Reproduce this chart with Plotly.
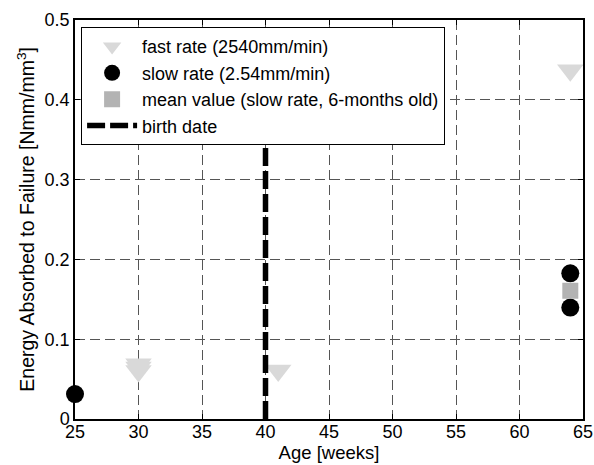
import plotly.graph_objects as go

fast_age = [30, 30, 30, 41, 64]
fast_energy = [0.0685, 0.0644, 0.0603, 0.0608, 0.437]
slow_age = [25, 64, 64]
slow_energy = [0.0313, 0.1826, 0.1397]
mean_age = [64]
mean_energy = [0.1607]
birth_age = [40, 40]
birth_energy = [0, 0.345]

x_ticks = [25, 30, 35, 40, 45, 50, 55, 60, 65]
y_ticks = [0, 0.1, 0.2, 0.3, 0.4, 0.5]
y_ticklabels = ["0", "0.1", "0.2", "0.3", "0.4", "0.5"]

FS = 18

fig = go.Figure()
fig.add_trace(go.Scatter(x=fast_age, y=fast_energy, mode="markers", name="fast rate (2540mm/min)",
                         marker=dict(symbol="triangle-down", size=23, color="#d9d9d9")))
fig.add_trace(go.Scatter(x=slow_age, y=slow_energy, mode="markers", name="slow rate (2.54mm/min)",
                         marker=dict(symbol="circle", size=18, color="black"), cliponaxis=False))
fig.add_trace(go.Scatter(x=mean_age, y=mean_energy, mode="markers", name="mean value (slow rate, 6-months old)",
                         marker=dict(symbol="square", size=16, color="#b3b3b3")))
fig.add_trace(go.Scatter(x=birth_age, y=birth_energy, mode="lines", name="birth date",
                         line=dict(color="black", width=5.5, dash="18px,5px")))

axis_common = dict(showline=True, linecolor="black", linewidth=1.5, mirror="allticks",
                   ticks="inside", ticklen=5, tickcolor="black", automargin=False,
                   showgrid=True, gridcolor="#555555", gridwidth=1, griddash="10px,5px",
                   zeroline=False, tickfont=dict(size=FS, color="black"))

fig.update_layout(
    width=594, height=465,
    margin=dict(l=75, r=11, t=20, b=46),
    paper_bgcolor="white", plot_bgcolor="white",
    font=dict(family="Liberation Sans, Arial, sans-serif", size=FS, color="black"),
    xaxis=dict(range=[25, 65], tickvals=x_ticks, ticklabelstandoff=-4,
               title=dict(text="Age [weeks]", standoff=0, font=dict(size=18.5)), **axis_common),
    yaxis=dict(range=[0, 0.5], tickvals=y_ticks, ticktext=y_ticklabels, **axis_common),
    legend=dict(x=0.012, y=0.982, xanchor="left", yanchor="top", bgcolor="white",
                bordercolor="black", borderwidth=1, font=dict(size=18),
                tracegroupgap=0, itemwidth=50),
    showlegend=True,
    annotations=[dict(text="Energy Absorbed to Failure [Nmm/mm<sup>3</sup>]", textangle=-90,
                      xref="paper", yref="paper", x=-0.098, y=0.5,
                      xanchor="center", yanchor="middle", showarrow=False,
                      font=dict(size=19.5, color="black"))],
)

fig.write_html("out.html", config={"displayModeBar": False},
               post_script="document.body.style.margin='0';")
